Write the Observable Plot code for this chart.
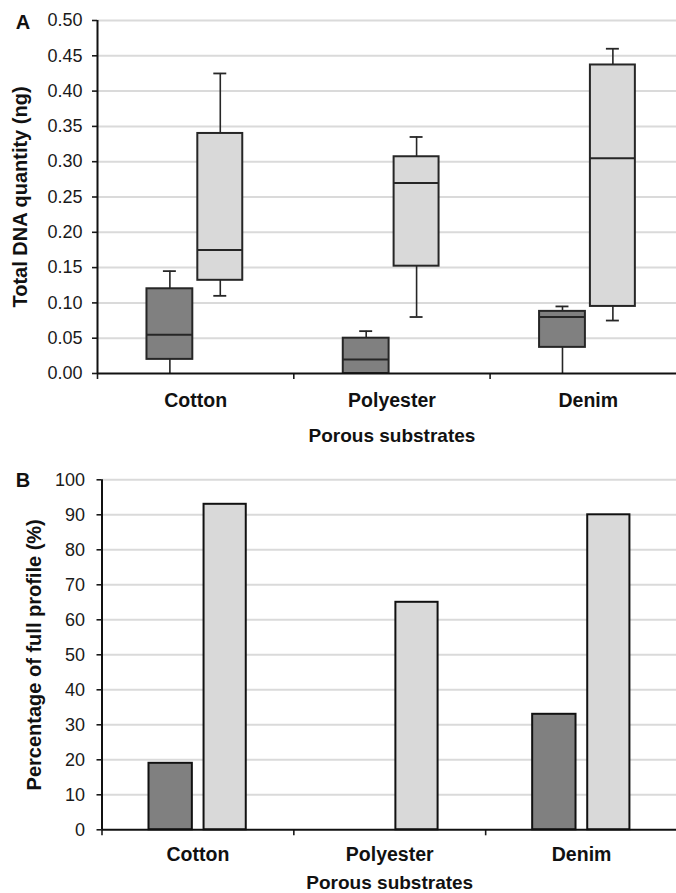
<!DOCTYPE html>
<html>
<head>
<meta charset="utf-8">
<script src="https://cdn.jsdelivr.net/npm/d3@7"></script>
<script src="https://cdn.jsdelivr.net/npm/@observablehq/plot@0.6"></script>
<style>
  html, body { margin: 0; padding: 0; background: #fff; overflow: hidden; }
  #chart svg { display: block; }
  [aria-label^="x-axis"] line, [aria-label^="x-axis"] path,
  [aria-label^="y-axis"] line, [aria-label^="y-axis"] path { stroke-width: 1.6px; }
</style>
</head>
<body>
<div id="chart"></div>
<script>
// ---------- data ----------
const categories = ["Cotton", "Polyester", "Denim"];

// Panel A: Total DNA quantity (ng), box plots
// dark series
const darkMin    = [0,     0,     0];
const darkQ1     = [0.02,  0,     0.037];
const darkMedian = [0.055, 0.02,  0.08];
const darkQ3     = [0.12,  0.05,  0.088];
const darkMax    = [0.145, 0.06,  0.095];
// light series
const lightMin    = [0.11,  0.08,  0.075];
const lightQ1     = [0.132, 0.152, 0.095];
const lightMedian = [0.175, 0.27,  0.305];
const lightQ3     = [0.34,  0.307, 0.437];
const lightMax    = [0.425, 0.335, 0.46];

// Panel B: Percentage of full profile (%)
const darkPercent  = [19, 0, 33];
const lightPercent = [93, 65, 90];

const yTicksA = [0, 0.05, 0.1, 0.15, 0.2, 0.25, 0.3, 0.35, 0.4, 0.45, 0.5];
const yTicksB = [0, 10, 20, 30, 40, 50, 60, 70, 80, 90, 100];

const titleA = "Total DNA quantity (ng)";
const titleB = "Percentage of full profile (%)";
const xTitle = "Porous substrates";

// ---------- style ----------
const FONT = "'Liberation Sans', Arial, Helvetica, sans-serif";
const DARK = "#808080", LIGHT = "#d9d9d9", INK = "#262626", GRID = "#dadada";
const TXT = {textAnchor: "middle", lineAnchor: "middle", fontWeight: "bold", fill: "#111"};

// ---------- tables ----------
const boxesDark = categories.map((c, i) => ({i, min: darkMin[i], q1: darkQ1[i], median: darkMedian[i], q3: darkQ3[i], max: darkMax[i]}));
const boxesLight = categories.map((c, i) => ({i, min: lightMin[i], q1: lightQ1[i], median: lightMedian[i], q3: lightQ3[i], max: lightMax[i]}));
const barsDark = categories.map((c, i) => ({i, value: darkPercent[i]})).filter(d => d.value > 0);
const barsLight = categories.map((c, i) => ({i, value: lightPercent[i]})).filter(d => d.value > 0);

// position of each series inside its category slot (fraction of slot)
const slotA = {dark: [0.252, 0.4855], light: [0.511, 0.740]};
const slotB = {dark: [0.245, 0.471], light: [0.532, 0.752]};
const capHalf = 0.033;

function boxMarks(data, slot, fill) {
  const x1 = d => d.i + slot[0], x2 = d => d.i + slot[1];
  const cx = d => d.i + (slot[0] + slot[1]) / 2;
  return [
    Plot.ruleX(data, {x: cx, y1: "min", y2: "q1", stroke: INK, strokeWidth: 1.6}),
    Plot.ruleX(data, {x: cx, y1: "q3", y2: "max", stroke: INK, strokeWidth: 1.6}),
    Plot.ruleY(data.filter(d => d.min > 0), {y: "min", x1: d => cx(d) - capHalf, x2: d => cx(d) + capHalf, stroke: INK, strokeWidth: 1.8}),
    Plot.ruleY(data, {y: "max", x1: d => cx(d) - capHalf, x2: d => cx(d) + capHalf, stroke: INK, strokeWidth: 1.8}),
    Plot.rect(data, {x1, x2, y1: "q1", y2: "q3", fill, stroke: INK, strokeWidth: 2}),
    Plot.ruleY(data, {y: "median", x1, x2, stroke: INK, strokeWidth: 2})
  ];
}

function barMarks(data, slot, fill) {
  return Plot.rect(data, {x1: d => d.i + slot[0], x2: d => d.i + slot[1], y1: 0, y2: "value", fill, stroke: "#111", strokeWidth: 2});
}

const chartA = Plot.plot({
  width: 676, height: 450,
  marginTop: 20, marginBottom: 77, marginLeft: 97, marginRight: 0,
  style: {fontFamily: FONT, fontSize: "18px", color: "#1a1a1a", background: "#fff"},
  x: {domain: [0, 3], range: [97, 685.9], ticks: [0, 1, 2, 3], tickFormat: () => "", tickSize: 6, label: null},
  y: {domain: [0, 0.5], ticks: yTicksA, tickFormat: d3.format(".2f"), tickSize: 5, tickPadding: 10, label: null},
  marks: [
    Plot.ruleY(yTicksA.filter(d => d > 0), {stroke: GRID, strokeWidth: 2}),
    ...boxMarks(boxesDark, slotA.dark, DARK),
    ...boxMarks(boxesLight, slotA.light, LIGHT),
    Plot.ruleX([0], {stroke: "#111", strokeWidth: 2}),
    Plot.ruleY([0], {stroke: "#111", strokeWidth: 2}),
    Plot.text(categories, {...TXT, x: (d, i) => i + 0.5, frameAnchor: "bottom", dy: 26.8, fontSize: 19.5}),
    Plot.text([xTitle], {...TXT, x: () => 1.5, frameAnchor: "bottom", dy: 62.6, fontSize: 19}),
    Plot.text([titleA], {...TXT, frameAnchor: "left", rotate: -90, dx: -76.5, fontSize: 20}),
    Plot.text(["A"], {...TXT, frameAnchor: "top-left", dx: -74.5, dy: 1.9, fontSize: 20})
  ]
});

const chartB = Plot.plot({
  width: 676, height: 443,
  marginTop: 29.3, marginBottom: 63.7, marginLeft: 101.5, marginRight: 0,
  style: {fontFamily: FONT, fontSize: "18px", color: "#1a1a1a", background: "#fff"},
  x: {domain: [0, 3], range: [101.5, 677], ticks: [0, 1, 2, 3], tickFormat: () => "", tickSize: 6, label: null},
  y: {domain: [0, 100], ticks: yTicksB, tickFormat: d3.format("d"), tickSize: 5, tickPadding: 12, label: null},
  marks: [
    Plot.ruleY(yTicksB.filter(d => d > 0), {stroke: GRID, strokeWidth: 2}),
    barMarks(barsDark, slotB.dark, DARK),
    barMarks(barsLight, slotB.light, LIGHT),
    Plot.ruleX([0], {stroke: "#111", strokeWidth: 2}),
    Plot.ruleY([0], {stroke: "#111", strokeWidth: 2}),
    Plot.text(categories, {...TXT, x: (d, i) => i + 0.5, frameAnchor: "bottom", dy: 24.5, fontSize: 19.5}),
    Plot.text([xTitle], {...TXT, x: () => 1.5, frameAnchor: "bottom", dy: 53.3, fontSize: 19}),
    Plot.text([titleB], {...TXT, frameAnchor: "left", rotate: -90, dx: -67.3, fontSize: 20}),
    Plot.text(["B"], {...TXT, frameAnchor: "top-left", dx: -79, dy: 1, fontSize: 20})
  ]
});

document.getElementById("chart").append(chartA, chartB);
</script>
</body>
</html>
